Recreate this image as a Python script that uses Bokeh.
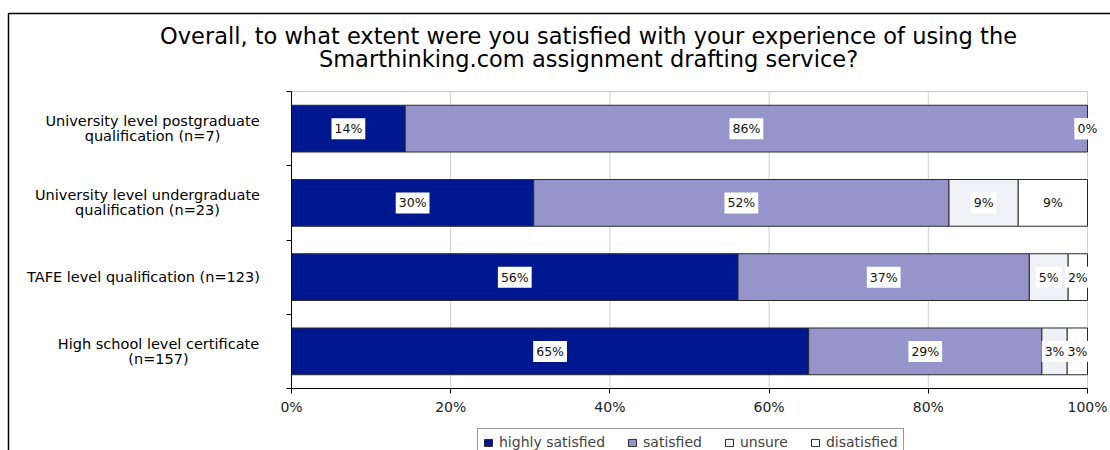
from bokeh.plotting import figure
from bokeh.models import (Range1d, FixedTicker, PrintfTickFormatter, ColumnDataSource,
                          Label, Legend, LegendItem, BoxAnnotation)
from bokeh.embed import file_html
from bokeh.resources import INLINE

# Survey results, percent of respondents per qualification level
categories = [
    "University level postgraduate\nqualification (n=7)",
    "University level undergraduate\nqualification (n=23)",
    "TAFE level qualification (n=123)",
    "High school level certificate\n(n=157)",
]
series_names = ["highly satisfied", "satisfied", "unsure", "disatisfied"]
highly_satisfied = [14.29, 30.43, 56.10, 64.97]
satisfied = [85.71, 52.17, 36.59, 29.30]
unsure = [0.0, 8.70, 4.88, 3.18]
disatisfied = [0.0, 8.70, 2.43, 2.55]
x_ticks = [0, 20, 40, 60, 80, 100]

title_text = ("Overall, to what extent were you satisfied with your experience of using the\n"
              "Smarthinking.com assignment drafting service?")

colors = ["#00188F", "#9595CB", "#F0F1F7", "#FFFFFF"]
series = [highly_satisfied, satisfied, unsure, disatisfied]

# canvas and plot-area geometry (pixels from the top-left corner)
W, H = 1110, 450
AREA_L, AREA_R, AREA_T, AREA_B = 291, 1087, 91, 388
n = len(categories)

# the frame covers the whole canvas; ranges are chosen so the value
# domain [0, 100] x [0, n] lands on the plot area
px_x = (AREA_R - AREA_L) / 100.0
px_y = (AREA_B - AREA_T) / n
x0 = -AREA_L / px_x
y0 = -(H - AREA_B) / px_y

p = figure(width=W, height=H, output_backend="svg", toolbar_location=None,
           x_range=Range1d(x0, x0 + W / px_x), y_range=Range1d(y0, y0 + H / px_y),
           min_border=0, min_border_left=0, min_border_right=0,
           min_border_top=0, min_border_bottom=0)
p.background_fill_color = "white"
p.border_fill_color = "white"
p.outline_line_color = None
p.xgrid.visible = False
p.ygrid.visible = False

# axes pinned to the plot-area edges
p.xaxis.fixed_location = 0
p.xaxis.bounds = (0, 100)
p.xaxis.ticker = FixedTicker(ticks=x_ticks)
p.xaxis.formatter = PrintfTickFormatter(format="%d%%")
p.xaxis.major_tick_in = 0
p.xaxis.major_tick_out = 5
p.xaxis.minor_tick_line_color = None
p.xaxis.axis_line_color = "black"
p.xaxis.major_tick_line_color = "black"
p.xaxis.major_label_text_font = "DejaVu Sans"
p.xaxis.major_label_text_font_size = "14px"
p.xaxis.major_label_text_color = "#222222"
p.xaxis.major_label_standoff = 5

p.yaxis.fixed_location = 0
p.yaxis.bounds = (0, n)
p.yaxis.ticker = FixedTicker(ticks=list(range(n + 1)))
p.yaxis.major_label_overrides = {i: "" for i in range(n + 1)}
p.yaxis.major_tick_in = 0
p.yaxis.major_tick_out = 5
p.yaxis.minor_tick_line_color = None
p.yaxis.axis_line_color = "black"
p.yaxis.major_tick_line_color = "black"

# vertical gridlines and the light plot-area border (top edge)
gx = x_ticks[1:]
p.segment(x0=gx, y0=[0] * len(gx), x1=gx, y1=[n] * len(gx),
          line_color="#D0D0D0", line_width=1)
p.segment(x0=[0], y0=[n], x1=[100], y1=[n], line_color="#C8C8C8", line_width=1)

# stacked horizontal bars with value labels
ys = [n - i - 0.5 for i in range(n)]
left = [0.0] * n
renderers = []
for name, vals, col in zip(series_names, series, colors):
    right = [l + v for l, v in zip(left, vals)]
    src = ColumnDataSource(dict(y=ys, left=left, right=right))
    r = p.hbar(y="y", left="left", right="right", height=0.63, source=src,
               fill_color=col, line_color="#2A2A2A", line_width=1)
    renderers.append((name, r))
    for yy, l, rr, v in zip(ys, left, right, vals):
        p.add_layout(Label(x=(l + rr) / 2, y=yy, text=f"{int(v + 0.5)}%",
                           text_align="center", text_baseline="middle",
                           text_font="DejaVu Sans", text_font_size="12.5px",
                           text_color="#111111", background_fill_color="white",
                           padding=3))
    left = right

# category labels on the left
centers = [152, 147, 143, 158]
for cat, yy, cx in zip(categories, ys, centers):
    p.add_layout(Label(x=cx, x_units="screen", y=yy, text=cat,
                       text_align="center", text_baseline="middle",
                       text_font="DejaVu Sans", text_font_size="14.5px",
                       text_color="black", text_line_height=0.95))

# title
p.add_layout(Label(x=588, x_units="screen", y=H - 22, y_units="screen",
                   text=title_text, text_align="center", text_baseline="top",
                   text_font="DejaVu Sans", text_font_size="22.5px", text_color="black",
                   text_line_height=0.92))

# outer chart border (top and left edges visible)
p.add_layout(BoxAnnotation(left=8, right=W + 5, top=H - 13, bottom=-5,
                           left_units="screen", right_units="screen",
                           top_units="screen", bottom_units="screen",
                           fill_alpha=0, line_alpha=1, line_color="black",
                           line_width=1.5))

legend = Legend(items=[LegendItem(label=nm, renderers=[r]) for nm, r in renderers],
                orientation="horizontal", location=(477, -6),
                label_text_font="DejaVu Sans", label_text_font_size="14px",
                glyph_width=10, glyph_height=9, label_standoff=6, spacing=22,
                padding=5, margin=0, border_line_color="#333333",
                background_fill_alpha=1)
p.add_layout(legend, "center")

open("out.html", "w").write(file_html(p, INLINE))
